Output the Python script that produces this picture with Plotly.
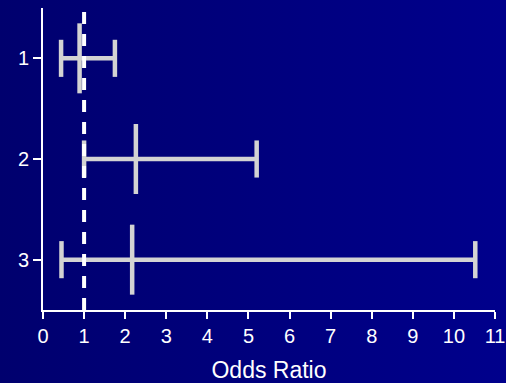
import base64
import plotly.graph_objects as go

# Odds ratios with 95% confidence intervals for three groups
groups = [1, 2, 3]
odds_ratio = [0.89, 2.26, 2.17]
ci_low = [0.44, 1.0, 0.45]
ci_high = [1.75, 5.2, 10.52]

x_ticks = list(range(0, 12))
reference_or = 1

W, H = 506, 383
L, R, T, B = 43, 11, 8, 73
plot_w, plot_h = W - L - R, H - T - B

bar_color = "#D3D3D3"
fg = "white"
font_family = "Liberation Sans, Arial, sans-serif"

fig = go.Figure()

# Horizontal confidence-interval segments
xs, ys = [], []
for g, lo, hi in zip(groups, ci_low, ci_high):
    xs += [lo, hi, None]
    ys += [g, g, None]
fig.add_trace(go.Scatter(x=xs, y=ys, mode="lines",
                         line=dict(color=bar_color, width=4.5),
                         hoverinfo="skip", showlegend=False))

# End caps of the intervals (line-ns spans 1.4 x marker size)
fig.add_trace(go.Scatter(x=ci_low + ci_high, y=groups + groups, mode="markers",
                         marker=dict(symbol="line-ns", size=26.5,
                                     line=dict(color=bar_color, width=4.5)),
                         hoverinfo="skip", showlegend=False))

# Point estimates drawn as taller vertical bars
fig.add_trace(go.Scatter(x=odds_ratio, y=groups, mode="markers",
                         marker=dict(symbol="line-ns", size=50,
                                     line=dict(color=bar_color, width=4.5)),
                         showlegend=False))

# Reference line at OR = 1
fig.add_shape(type="line", xref="x", yref="paper",
              x0=reference_or, x1=reference_or, y0=0, y1=1,
              line=dict(color=fg, width=4, dash="12px,10px"), layer="above")

# Horizontal blue gradient background
svg = (f'<svg xmlns="http://www.w3.org/2000/svg" width="{W}" height="{H}">'
       '<defs><linearGradient id="g" x1="0" y1="0" x2="1" y2="0">'
       '<stop offset="0" stop-color="#00006E"/>'
       '<stop offset="1" stop-color="#00008C"/>'
       '</linearGradient></defs>'
       f'<rect width="{W}" height="{H}" fill="url(#g)"/></svg>')
src = "data:image/svg+xml;base64," + base64.b64encode(svg.encode()).decode()
fig.add_layout_image(dict(source=src, xref="paper", yref="paper",
                          x=-L / plot_w, y=1 + T / plot_h,
                          sizex=W / plot_w, sizey=H / plot_h,
                          xanchor="left", yanchor="top",
                          sizing="stretch", layer="below"))

fig.update_layout(
    width=W, height=H,
    margin=dict(l=L, r=R, t=T, b=B, pad=0, autoexpand=False),
    paper_bgcolor="#00007C",
    plot_bgcolor="rgba(0,0,0,0)",
    font=dict(family=font_family, color=fg, size=20),
    showlegend=False,
)
fig.update_xaxes(range=[0, 11], tickvals=x_ticks, ticktext=[str(v) for v in x_ticks],
                 automargin=False,
                 showgrid=False, zeroline=False,
                 showline=True, linecolor=fg, linewidth=2,
                 ticks="outside", ticklen=7, tickwidth=2, tickcolor=fg,
                 tickfont=dict(size=20),
                 title=dict(text="Odds Ratio", font=dict(size=23), standoff=18))
fig.update_yaxes(range=[3.5, 0.5], tickvals=groups, ticktext=[str(g) for g in groups],
                 automargin=False,
                 showgrid=False, zeroline=False,
                 showline=True, linecolor=fg, linewidth=2,
                 ticks="outside", ticklen=8, tickwidth=2, tickcolor=fg,
                 tickfont=dict(size=20))

fig.write_html("out.html")
